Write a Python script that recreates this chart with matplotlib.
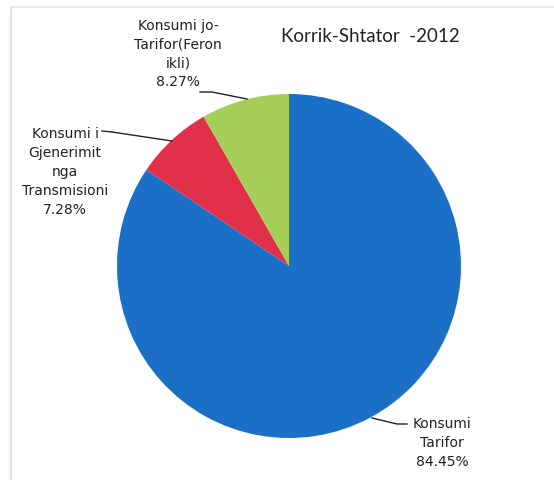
import matplotlib.pyplot as plt

labels = ['Konsumi\nTarifor', 'Konsumi i\nGjenerimit\nnga\nTransmisioni', 'Konsumi jo-\nTarifor(Feron\nikli)']
shares = [84.45, 7.28, 8.27]
colors = ['#1b6fc6', '#e0304a', '#a6cf5a']
title = 'Korrik-Shtator  -2012'

H = 481
fig = plt.figure(figsize=(5.54, 4.81), dpi=100)
ax = fig.add_axes([0, 0, 1, 1])

# faint scan border
ax.plot([10.5, 10.5], [0, H - 8], color='#dcdce6', lw=1.2)
ax.plot([10.5, 554], [H - 8, H - 8], color='#e4e4ea', lw=1.2)

ax.pie(shares, colors=colors, startangle=90, counterclock=False,
       center=(289, H - 267), radius=172, frame=True,
       wedgeprops=dict(linewidth=0))
ax.set_xlim(0, 554)
ax.set_ylim(0, H)
ax.set_aspect('equal')
ax.axis('off')

ax.text(370, H - 37, title, ha='center', va='center', fontsize=13.5,
        family='Lato', color='#222222')

# data labels (pixel positions from the picture)
txt = [labels[i] + '\n%.2f%%' % shares[i] for i in range(3)]
lab = dict(ha='center', va='center', fontsize=10, family='DejaVu Sans',
           color='#222222', linespacing=1.45)
ax.text(442, H - 443, txt[0], **lab)
ax.text(65, H - 172, txt[1], **lab)
ax.text(178, H - 54, txt[2], **lab)

# leader lines
ax.plot([372, 397, 407], [H - 419, H - 425, H - 425], color='#222222', lw=1)
ax.plot([102, 112, 172], [H - 132, H - 133, H - 142], color='#222222', lw=1)
ax.plot([200, 212, 247], [H - 93, H - 93, H - 100], color='#222222', lw=1)

fig.savefig('out.png', dpi=100)
